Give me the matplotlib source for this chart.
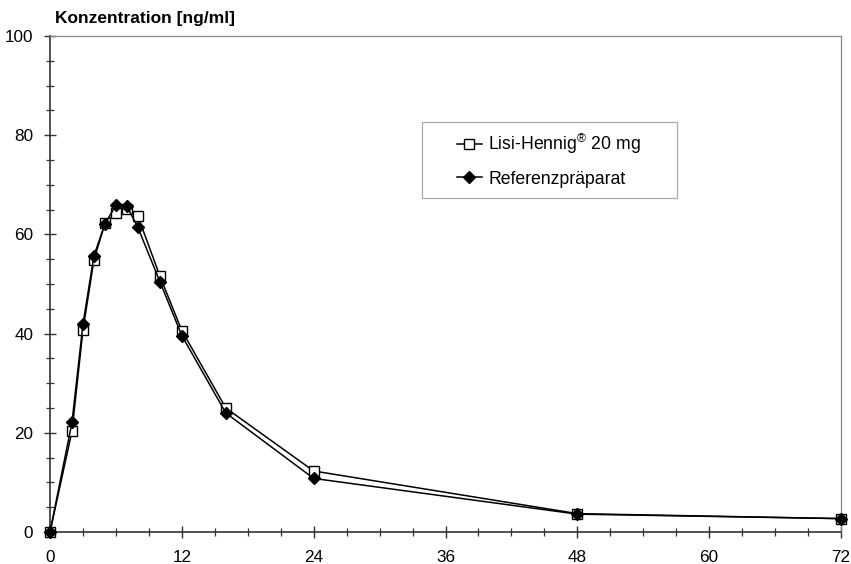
import numpy as np
import matplotlib.pyplot as plt
from matplotlib.patches import Rectangle
from matplotlib.ticker import MultipleLocator

plt.rcParams['font.family'] = ['Liberation Sans', 'DejaVu Sans']
plt.rcParams['mathtext.fontset'] = 'custom'
plt.rcParams['mathtext.rm'] = 'Liberation Sans'

# sampling times [h]
zeit = [0, 2, 3, 4, 5, 6, 7, 8, 10, 12, 16, 24, 48, 72]
# mean plasma concentrations [ng/ml]
lisi = [0, 20.3, 40.7, 54.9, 62.2, 64.4, 65.1, 63.7, 51.6, 40.6, 25.0, 12.3, 3.7, 2.7]
referenz = [0, 22.1, 41.9, 55.7, 62.1, 65.9, 65.7, 61.4, 50.5, 39.6, 24.0, 10.8, 3.6, 2.7]

fig = plt.figure(figsize=(8.51, 5.64), dpi=100)
ax = fig.add_axes([50 / 851, 32 / 564, 791 / 851, 496 / 564])

ax.plot(zeit, lisi, color='black', lw=1.1, marker='s', markersize=7.5,
        markerfacecolor='white', markeredgecolor='black', markeredgewidth=1.0,
        label='Lisi-Hennig$^{\\circledR}$ 20 mg', zorder=6, clip_on=False)
ax.plot(zeit, referenz, color='black', lw=1.1, marker='D', markersize=5.8,
        markerfacecolor='black', markeredgecolor='black',
        label='Referenzpräparat', zorder=7, clip_on=False)

ax.set_xlim(0, 72)
ax.set_ylim(0, 100)
ax.xaxis.set_major_locator(MultipleLocator(12))
ax.xaxis.set_minor_locator(MultipleLocator(3))
ax.yaxis.set_major_locator(MultipleLocator(20))
ax.yaxis.set_minor_locator(MultipleLocator(5))
ax.tick_params(which='major', direction='inout', length=8, width=1.0,
               color='#333333', labelsize=12.3)
ax.tick_params(axis='x', which='major', pad=9)
ax.tick_params(axis='y', which='major', pad=8)
ax.tick_params(which='minor', direction='inout', length=6, width=0.9, color='#333333')

for side in ['left', 'bottom']:
    ax.spines[side].set_color('#333333')
    ax.spines[side].set_linewidth(1.2)
for side in ['top', 'right']:
    ax.spines[side].set_color('#888888')
    ax.spines[side].set_linewidth(0.9)
for s in ax.spines.values():
    s.set_zorder(5)

fig.text(55 / 851, 1 - 18.5 / 564, 'Konzentration [ng/ml]', fontsize=12.5,
         fontweight='bold', va='center', ha='left')

# legend box drawn separately so the entries can sit with wide side padding
ax.add_patch(Rectangle((0.470, 0.673), 0.323, 0.154, transform=ax.transAxes,
                       facecolor='white', edgecolor='#aaaaaa', lw=0.9, zorder=8))
leg = ax.legend(loc='center left', bbox_to_anchor=(0.514, 0.75), fontsize=12.7,
                handlelength=1.45, handletextpad=0.35, borderpad=0,
                borderaxespad=0, labelspacing=0.8, frameon=False)
leg.set_zorder(9)

fig.savefig('out.png', dpi=100)
